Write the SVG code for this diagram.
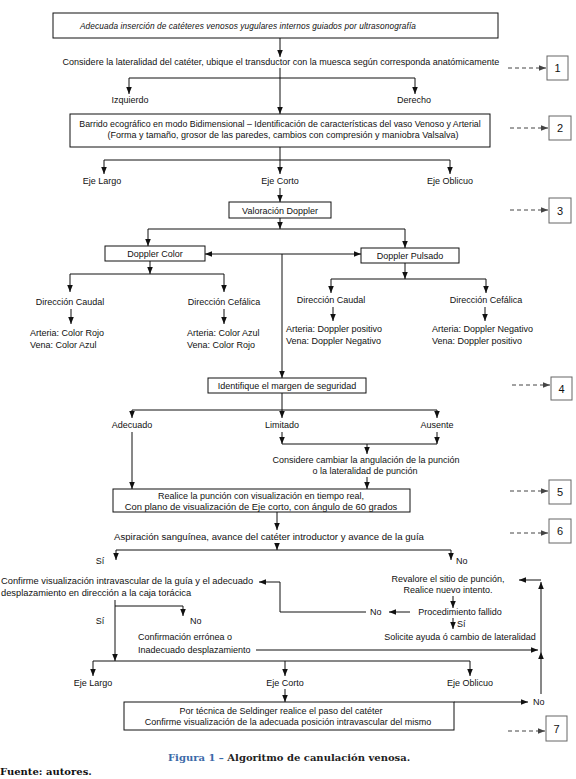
<svg xmlns="http://www.w3.org/2000/svg" width="576" height="779" viewBox="0 0 576 779">
<defs>
<marker id="ah" viewBox="0 0 10 8" refX="10" refY="4" markerWidth="7" markerHeight="5.6" orient="auto-start-reverse" markerUnits="userSpaceOnUse"><path d="M0,0 L10,4 L0,8 z" fill="#111"/></marker>
<marker id="ahg" viewBox="0 0 10 8" refX="10" refY="4" markerWidth="7" markerHeight="5.6" orient="auto" markerUnits="userSpaceOnUse"><path d="M0,0 L10,4 L0,8 z" fill="#444"/></marker>
<style>
text{font-family:"Liberation Sans",Arial,sans-serif;font-size:9px;fill:#111}
.m{text-anchor:middle}
.it{font-style:italic;font-size:8.3px;letter-spacing:0.1px}
.box{fill:#fff;stroke:#111;stroke-width:1}
.nbox{fill:#fff;stroke:#666;stroke-width:1}
.num{font-size:11px;text-anchor:middle}
.c path{fill:none;stroke:#111;stroke-width:1}
.c .a{marker-end:url(#ah)}
.c .d{stroke:#444;stroke-dasharray:4 3;marker-end:url(#ahg)}
.cap{font-family:"DejaVu Serif","Liberation Serif",serif;font-weight:bold;font-size:10px}
</style>
</defs>
<rect width="576" height="779" fill="#fff"/>

<g id="n-top"><rect class="box" x="53" y="13" width="445" height="25"/><text class="m it" x="248" y="28.5">Adecuada inserción de catéteres venosos yugulares internos guiados por ultrasonografía</text></g>
<g id="n-considere"><text class="m" x="281" y="65">Considere la lateralidad del catéter, ubique el transductor  con la muesca según corresponda anatómicamente</text></g>
<g id="n-izq"><text class="m" x="130" y="103">Izquierdo</text></g>
<g id="n-der"><text class="m" x="414" y="103">Derecho</text></g>
<g id="n-barrido"><rect class="box" x="70" y="114" width="420" height="33"/><text class="m" x="280" y="127" style="font-size:8.8px">Barrido ecográfico en modo Bidimensional – Identificación de características del vaso Venoso  y  Arterial</text><text class="m" x="283" y="138">(Forma y tamaño, grosor de las paredes, cambios con compresión y maniobra Valsalva)</text></g>
<g id="n-ejel1"><text class="m" x="102" y="184">Eje Largo</text></g>
<g id="n-ejec1"><text class="m" x="280" y="184">Eje Corto</text></g>
<g id="n-ejeo1"><text class="m" x="450" y="184">Eje Oblicuo</text></g>
<g id="n-valoracion"><rect class="box" x="229" y="202" width="102" height="16"/><text class="m" x="280" y="213.5">Valoración Doppler</text></g>
<g id="n-dcolor"><rect class="box" x="105" y="246" width="100" height="15"/><text class="m" x="155" y="257">Doppler Color</text></g>
<g id="n-dpulsado"><rect class="box" x="361" y="248" width="98" height="15"/><text class="m" x="410" y="259">Doppler Pulsado</text></g>
<g id="n-cc1"><text class="m" x="70" y="305">Dirección Caudal</text></g>
<g id="n-cf1"><text class="m" x="224" y="305">Dirección Cefálica</text></g>
<g id="n-cc2"><text class="m" x="331" y="303">Dirección Caudal</text></g>
<g id="n-cf2"><text class="m" x="486" y="303">Dirección Cefálica</text></g>
<g id="n-r1"><text x="30" y="336">Arteria: Color Rojo</text><text x="30" y="348">Vena: Color Azul</text></g>
<g id="n-r2"><text x="187" y="336">Arteria: Color Azul</text><text x="187" y="348">Vena: Color Rojo</text></g>
<g id="n-r3"><text x="286" y="332">Arteria: Doppler positivo</text><text x="286" y="344">Vena: Doppler Negativo</text></g>
<g id="n-r4"><text x="432" y="332">Arteria: Doppler Negativo</text><text x="432" y="344">Vena: Doppler positivo</text></g>
<g id="n-identifique"><rect class="box" x="208" y="378" width="158" height="15"/><text class="m" x="287" y="389">Identifique el margen de seguridad</text></g>
<g id="n-adecuado"><text class="m" x="132" y="428">Adecuado</text></g>
<g id="n-limitado"><text class="m" x="282" y="428">Limitado</text></g>
<g id="n-ausente"><text class="m" x="437" y="428">Ausente</text></g>
<g id="n-cambiar"><text class="m" x="366" y="463">Considere  cambiar la angulación de la punción</text><text class="m" x="365" y="474">o la lateralidad de punción</text></g>
<g id="n-realice"><rect class="box" x="113" y="489" width="297" height="23"/><text class="m" x="261" y="499">Realice la punción  con visualización en tiempo real,</text><text class="m" x="261" y="509.5" style="font-size:9.4px">Con plano de visualización de Eje corto, con ángulo de 60 grados</text></g>
<g id="n-aspiracion"><text class="m" x="269" y="540" style="font-size:9.6px">Aspiración sanguínea, avance del catéter introductor  y avance  de la guía</text></g>
<g id="n-si1"><text class="m" x="100" y="564">Sí</text></g>
<g id="n-no1"><text x="456" y="564">No</text></g>
<g id="n-confirme"><text x="1" y="584" style="font-size:9.3px">Confirme visualización intravascular de la  guía y el adecuado</text><text x="1" y="596" style="font-size:9.3px"> desplazamiento en dirección a la caja torácica</text></g>
<g id="n-revalore"><text class="m" x="448" y="582">Revalore  el sitio de punción,</text><text class="m" x="448" y="593">Realice nuevo intento.</text></g>
<g id="n-fallido"><text class="m" x="460" y="615">Procedimiento fallido</text></g>
<g id="n-no2"><text x="370" y="615">No</text></g>
<g id="n-si2"><text x="457" y="627">Sí</text></g>
<g id="n-solicite"><text class="m" x="460" y="640">Solicite ayuda ó cambio de lateralidad</text></g>
<g id="n-si3"><text class="m" x="100" y="624">Sí</text></g>
<g id="n-no3"><text x="190" y="624">No</text></g>
<g id="n-erronea"><text x="138" y="640">Confirmación errónea o</text><text x="138" y="653">Inadecuado desplazamiento</text></g>
<g id="n-ejel2"><text class="m" x="93" y="686">Eje Largo</text></g>
<g id="n-ejec2"><text class="m" x="285" y="686">Eje Corto</text></g>
<g id="n-ejeo2"><text class="m" x="470" y="686">Eje Oblicuo</text></g>
<g id="n-seldinger"><rect class="box" x="124" y="702" width="330" height="28"/><text class="m" x="281" y="713.5">Por técnica de Seldinger realice el paso del catéter</text><text class="m" x="288" y="724.5">Confirme visualización de la adecuada posición intravascular del mismo</text></g>
<g id="n-no4"><text x="533" y="705">No</text></g>

<g id="n-1"><rect class="nbox" x="547" y="56" width="21" height="24"/><text class="num" x="557.5" y="72">1</text></g>
<g id="n-2"><rect class="nbox" x="549" y="116" width="22" height="24"/><text class="num" x="560" y="132">2</text></g>
<g id="n-3"><rect class="nbox" x="549" y="198" width="22" height="25"/><text class="num" x="560" y="214.5">3</text></g>
<g id="n-4"><rect class="nbox" x="551" y="377" width="21" height="23"/><text class="num" x="561.5" y="392.5">4</text></g>
<g id="n-5"><rect class="nbox" x="549" y="480" width="22" height="24"/><text class="num" x="560" y="496">5</text></g>
<g id="n-6"><rect class="nbox" x="549" y="519" width="22" height="24"/><text class="num" x="560" y="535">6</text></g>
<g id="n-7"><rect class="nbox" x="546" y="716" width="21" height="25"/><text class="num" x="556.5" y="732.5">7</text></g>

<g id="caption"><text class="cap" x="168" y="761"><tspan fill="#3b6aa8">Figura 1 –</tspan> <tspan fill="#222">Algoritmo de canulación venosa.</tspan></text><text class="cap" x="0" y="775" fill="#222">Fuente: autores.</text></g>

<g id="connectors" class="c">
<path class="a" d="M280,38 V57"/>
<path class="a" d="M280,68 V114"/>
<path d="M129,78 H415"/>
<path class="a" d="M129,78 V94"/>
<path class="a" d="M415,78 V94"/>
<path class="a" d="M280,147 V174"/>
<path d="M104,160 H450"/>
<path class="a" d="M104,160 V174"/>
<path class="a" d="M450,160 V174"/>
<path class="a" d="M280,188 V202"/>
<path class="a" d="M280,218 V229"/>
<path d="M148,229 H405"/>
<path class="a" d="M148,229 V246"/>
<path class="a" d="M405,229 V248"/>
<path style="marker-start:url(#ah);marker-end:url(#ah)" d="M205,254 H361"/>
<path class="a" d="M282,254 V378"/>
<path class="a" d="M150,261 V274"/>
<path d="M70,274 H224"/>
<path class="a" d="M70,274 V292"/>
<path class="a" d="M224,274 V292"/>
<path class="a" d="M71,309 V324"/>
<path class="a" d="M224,309 V324"/>
<path class="a" d="M405,263 V279"/>
<path d="M331,279 H486"/>
<path class="a" d="M331,279 V293"/>
<path class="a" d="M486,279 V293"/>
<path class="a" d="M333,307 V321"/>
<path class="a" d="M485,307 V321"/>
<path class="a" d="M282,393 V418"/>
<path d="M132,410 H437"/>
<path class="a" d="M132,410 V418"/>
<path class="a" d="M437,410 V418"/>
<path class="a" d="M282,432 V444"/>
<path class="a" d="M437,432 V444"/>
<path d="M282,444 H437"/>
<path class="a" d="M367,444 V454"/>
<path class="a" d="M367,477 V489"/>
<path class="a" d="M132,432 V489"/>
<path class="a" d="M277,512 V530"/>
<path class="a" d="M277,543 V550"/>
<path d="M116,550 H451"/>
<path class="a" d="M116,550 V560"/>
<path class="a" d="M451,550 V560"/>
<path class="a" d="M453,596 V608"/>
<path class="a" d="M410,612 H389"/>
<path class="a" d="M366,612 H280 V582 H259"/>
<path class="a" d="M453,618 V629"/>
<path class="a" d="M541,694 V652"/>
<path class="a" d="M541,652 V582"/>
<path class="a" d="M541,580 H519"/>
<path class="a" d="M115,600 V661"/>
<path class="a" d="M115,606 H183 V616"/>
<path class="a" d="M256,650 H538"/>
<path d="M93,661 H470"/>
<path class="a" d="M93,661 V676"/>
<path class="a" d="M285,661 V676"/>
<path class="a" d="M470,661 V676"/>
<path class="a" d="M285,689 V702"/>
<path class="a" d="M454,702 H528"/>
<path class="d" d="M508,68 H546"/>
<path class="d" d="M510,128 H548"/>
<path class="d" d="M510,210 H548"/>
<path class="d" d="M512,385 H550"/>
<path class="d" d="M510,491 H548"/>
<path class="d" d="M510,533 H548"/>
<path class="d" d="M508,731 H545"/>
</g>
</svg>
